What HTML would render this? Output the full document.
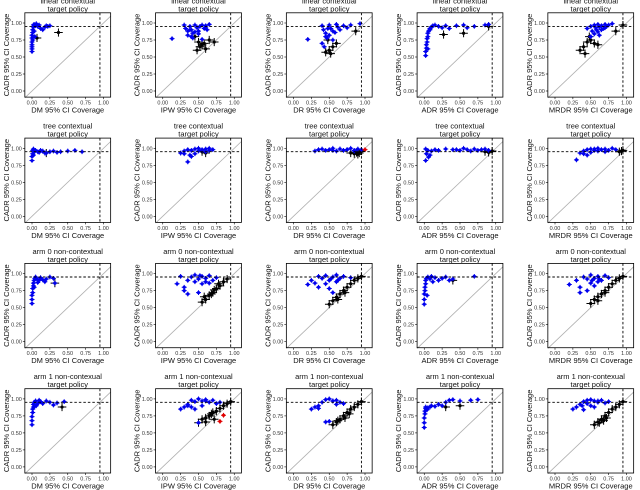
<!DOCTYPE html>
<html><head><meta charset="utf-8"><style>
html,body{margin:0;padding:0;background:#fff;}
svg{display:block;font-family:"Liberation Sans",sans-serif;}
</style></head><body>
<svg id="fig" width="640" height="490" viewBox="0 0 640 490" xmlns="http://www.w3.org/2000/svg"></svg>
<script>
const rowTitles = ["linear contextual","tree contextual","arm 0 non-contextual","arm 1 non-contexual"];
const colNames = ["DM","IPW","DR","ADR","MRDR"];
const tickVals = [0,0.25,0.5,0.75,1];
const tickLabels = ["0.00","0.25","0.50","0.75","1.00"];
const nominal = 0.95;
// blue points per panel (row-major)
const blueX = [
 [0,0,0,0,0,0,0.01,0.01,0.02,0.02,0.03,0.05,0.08,0.1,0.12,0.15,0.18,0.2,0.22,0.25,0.03,0.01,0,0.06,0.04],
 [0.13,0.3,0.32,0.35,0.38,0.4,0.42,0.45,0.48,0.5,0.52,0.55,0.58,0.6,0.62,0.65,0.35,0.4,0.45,0.5,0.55,0.6,0.38,0.42],
 [0.2,0.4,0.42,0.45,0.5,0.52,0.55,0.6,0.62,0.65,0.7,0.75,0.8,0.45,0.5,0.4,0.55,0.43,0.48,0.93,0.58,0.47],
 [0.02,0.02,0.03,0.03,0.04,0.04,0.05,0.05,0.06,0.08,0.1,0.12,0.15,0.2,0.25,0.3,0.35,0.45,0.55,0.6,0.7,0.85,0.9,0.08,0.05],
 [0.45,0.5,0.52,0.55,0.58,0.6,0.62,0.65,0.68,0.7,0.72,0.75,0.8,0.55,0.6,0.65,0.5,0.7,0.62,0.57],
 [0,0,0.01,0.01,0.02,0.03,0.05,0.08,0.1,0.15,0.2,0.25,0.3,0.35,0.4,0.5,0.6,0.7,0.02,0.12,0.18],
 [0.25,0.3,0.35,0.38,0.4,0.45,0.5,0.55,0.6,0.65,0.7,0.4,0.45,0.35,0.55,0.6,0.5,0.3,0.65],
 [0.3,0.35,0.4,0.45,0.5,0.55,0.6,0.65,0.7,0.75,0.8,0.85,0.9,0.95,0.55,0.65,0.75,0.85],
 [0.02,0.03,0.05,0.08,0.1,0.02,0.06,0.15,0.2,0.3,0.4,0.5,0.55,0.6,0.7,0.75,0.8,0.85,0.9,0.65,0.45],
 [0.3,0.35,0.4,0.45,0.5,0.55,0.6,0.65,0.7,0.75,0.8,0.85,0.45,0.5,0.6,0.4,0.7,0.55],
 [0,0,0,0.01,0.01,0.02,0.02,0.03,0.04,0.05,0.07,0.1,0.12,0.15,0.18,0.2,0.25,0.3,0.32,0.03,0.08],
 [0.2,0.25,0.3,0.35,0.4,0.45,0.5,0.55,0.6,0.65,0.7,0.75,0.5,0.55,0.6,0.3,0.35,0.45,0.65,0.52],
 [0.2,0.25,0.3,0.35,0.4,0.45,0.5,0.55,0.6,0.65,0.7,0.8,0.5,0.55,0.45,0.6,0.35,0.62,0.52],
 [0,0,0,0.01,0.01,0.02,0.02,0.03,0.05,0.08,0.1,0.15,0.2,0.25,0.3,0.35,0.4,0.7,0.04,0.12],
 [0.2,0.3,0.35,0.4,0.45,0.5,0.55,0.6,0.65,0.7,0.75,0.5,0.55,0.6,0.45,0.35,0.62,0.52],
 [0,0,0,0.01,0.01,0.02,0.02,0.03,0.05,0.08,0.1,0.12,0.15,0.2,0.25,0.3,0.35,0.45,0.03,0.06],
 [0.25,0.3,0.35,0.4,0.45,0.5,0.55,0.6,0.65,0.7,0.75,0.5,0.55,0.45,0.4,0.6,0.35,0.8],
 [0.25,0.3,0.35,0.4,0.45,0.5,0.55,0.6,0.65,0.7,0.45,0.5,0.35,0.6,0.55],
 [0,0,0,0.01,0.01,0.02,0.02,0.03,0.05,0.08,0.1,0.15,0.2,0.25,0.3,0.35,0.4,0.5,0.65,0.75,0.04],
 [0.25,0.3,0.35,0.4,0.45,0.5,0.55,0.6,0.65,0.7,0.75,0.4,0.5,0.55,0.45,0.6,0.38]
];
const blueY = [
 [0.58,0.62,0.68,0.72,0.78,0.82,0.86,0.9,0.94,0.97,0.98,0.96,0.95,0.97,0.92,0.9,0.94,0.96,0.95,0.96,0.88,0.75,0.65,0.99,0.8],
 [0.77,0.97,0.92,0.88,0.95,0.9,0.85,0.97,0.93,0.88,0.95,0.97,0.92,0.96,0.9,0.98,0.82,0.8,0.87,0.84,0.76,0.93,0.9,0.78],
 [0.76,0.96,0.9,0.85,0.97,0.92,0.88,0.98,0.94,0.9,0.96,0.93,0.97,0.8,0.82,0.7,0.75,0.65,0.92,0.99,0.86,0.78],
 [0.52,0.58,0.63,0.68,0.72,0.77,0.8,0.85,0.88,0.92,0.94,0.96,0.97,0.95,0.93,0.96,0.92,0.96,0.97,0.93,0.95,0.97,0.98,0.9,0.62],
 [0.92,0.95,0.88,0.97,0.9,0.98,0.94,0.96,0.92,0.98,0.95,0.97,0.99,0.84,0.87,0.9,0.8,0.93,0.82,0.93],
 [0.82,0.88,0.92,0.97,0.99,0.95,0.97,0.95,0.94,0.96,0.93,0.95,0.96,0.94,0.95,0.96,0.97,0.95,0.9,0.97,0.93],
 [0.93,0.96,0.98,0.9,0.97,0.99,0.96,0.98,0.99,0.97,0.98,0.88,0.92,0.8,0.97,0.95,1.0,0.92,1.0],
 [0.96,0.98,0.99,0.97,0.98,1.0,0.96,0.99,0.97,0.98,1.0,0.97,0.99,0.98,0.97,0.99,0.98,0.96],
 [0.82,0.92,0.97,0.9,0.96,0.99,0.87,0.98,0.97,0.99,0.98,0.97,1.0,0.98,0.99,0.97,0.98,0.99,0.97,0.96,0.98],
 [0.83,0.93,0.96,0.98,0.99,0.97,1.0,0.98,0.99,0.97,1.0,0.98,0.9,0.94,0.96,0.92,0.95,0.99],
 [0.56,0.62,0.68,0.72,0.78,0.82,0.86,0.9,0.93,0.95,0.92,0.9,0.94,0.91,0.88,0.92,0.95,0.93,0.86,0.8,0.87],
 [0.85,0.96,0.8,0.9,0.95,0.98,0.92,0.96,0.93,0.97,0.9,0.94,0.72,0.85,0.88,0.75,0.7,0.88,0.86,0.97],
 [0.84,0.9,0.86,0.96,0.93,0.97,0.9,0.95,0.98,0.93,0.96,0.94,0.78,0.72,0.85,0.88,0.8,0.9,0.92],
 [0.55,0.62,0.7,0.75,0.8,0.85,0.9,0.93,0.95,0.92,0.96,0.94,0.9,0.93,0.95,0.9,0.92,0.96,0.68,0.88],
 [0.84,0.9,0.8,0.95,0.92,0.98,0.93,0.96,0.9,0.97,0.94,0.86,0.82,0.88,0.75,0.72,0.92,0.9],
 [0.62,0.68,0.74,0.8,0.85,0.88,0.92,0.95,0.97,0.93,0.98,0.96,0.93,0.97,0.95,0.91,0.94,0.96,0.88,0.9],
 [0.85,0.88,0.92,0.98,0.96,1.0,0.97,0.99,0.95,0.98,0.93,0.65,0.9,0.85,0.88,0.97,0.9,0.95],
 [0.85,0.88,0.9,0.95,0.99,1.0,0.97,0.98,0.95,0.93,0.66,0.67,0.86,0.92,0.97],
 [0.58,0.65,0.72,0.78,0.82,0.86,0.88,0.85,0.87,0.88,0.9,0.89,0.92,0.9,0.95,0.98,0.99,0.97,0.98,0.99,0.84],
 [0.85,0.88,0.92,0.96,0.98,0.99,0.97,0.95,0.98,0.94,0.96,0.84,0.9,0.88,0.93,0.97,0.9]
];
// black points per panel
const blackX = [
 [0.37,0.07],
 [0.48,0.52,0.55,0.6,0.65,0.72,0.5,0.58,0.45],
 [0.45,0.5,0.55,0.6,0.48,0.87,0.52],
 [0.27,0.55,0.9],
 [0.35,0.4,0.45,0.5,0.55,0.6,0.85,0.95,0.42,0.48],
 [0.2],
 [0.55,0.6],
 [0.8,0.85,0.88,0.92,0.95,0.9],
 [0.85,0.9,0.95],
 [0.9,0.95,0.93],
 [0.32],
 [0.55,0.6,0.65,0.7,0.75,0.8,0.85,0.9,0.58,0.68,0.78,0.72],
 [0.5,0.55,0.6,0.65,0.7,0.75,0.8,0.85,0.9,0.95,0.62,0.72],
 [0.4],
 [0.5,0.55,0.6,0.65,0.7,0.75,0.8,0.85,0.9,0.95,0.6,0.7],
 [0.42],
 [0.5,0.55,0.6,0.65,0.7,0.75,0.8,0.85,0.9,0.95,0.6,0.72,0.68],
 [0.55,0.6,0.65,0.7,0.75,0.8,0.85,0.9,0.95,0.62,0.72,0.78],
 [0.3,0.5],
 [0.55,0.6,0.65,0.7,0.75,0.8,0.85,0.9,0.95,0.62,0.72,0.68]
];
const blackY = [
 [0.86,0.78],
 [0.6,0.65,0.68,0.62,0.75,0.72,0.72,0.7,0.8],
 [0.57,0.6,0.65,0.7,0.75,0.88,0.55],
 [0.83,0.85,0.95],
 [0.6,0.65,0.72,0.75,0.7,0.68,0.88,0.97,0.55,0.8],
 [0.93],
 [0.95,0.93],
 [0.93,0.92,0.94,0.93,0.96,0.91],
 [0.95,0.94,0.96],
 [0.95,0.97,0.96],
 [0.86],
 [0.58,0.62,0.68,0.72,0.78,0.82,0.88,0.92,0.66,0.7,0.85,0.76],
 [0.55,0.6,0.65,0.7,0.75,0.8,0.85,0.9,0.93,0.96,0.62,0.72],
 [0.9],
 [0.56,0.62,0.66,0.7,0.75,0.8,0.85,0.9,0.93,0.96,0.6,0.72],
 [0.88],
 [0.65,0.7,0.72,0.75,0.8,0.82,0.86,0.9,0.93,0.96,0.66,0.7,0.78],
 [0.62,0.66,0.7,0.75,0.8,0.85,0.88,0.92,0.96,0.68,0.72,0.78],
 [0.88,0.9],
 [0.62,0.66,0.7,0.75,0.8,0.85,0.88,0.92,0.96,0.65,0.72,0.68]
];
const redX = [[],[],[],[],[],[],[],[1.0],[],[],[],[],[],[],[],[],[0.8,0.85],[],[],[]];
const redY = [[],[],[],[],[],[],[],[0.98],[],[],[],[],[],[],[],[],[0.67,0.76],[],[],[]];

const NS="http://www.w3.org/2000/svg";
const svg=document.getElementById('fig');
function mk(tag,attrs,parent){const e=document.createElementNS(NS,tag);for(const k in attrs)e.setAttribute(k,attrs[k]);(parent||svg).appendChild(e);return e;}

for(let r=0;r<4;r++){for(let c=0;c<5;c++){
 const p=r*5+c;
 const X0=32+c*130.75, UX=71.5, Y0=91+r*125.3, UY=68;
 const sx=v=>X0+v*UX, sy=v=>Y0-v*UY;
 const g=mk('g',{});
 
 
 const L=sx(-0.1),R=sx(1.1),T=sy(1.15),B=sy(-0.09);
 const d=mk('line',{x1:sx(-0.1),y1:sy(-0.1),x2:sx(1.1),y2:sy(1.1),stroke:'#b0b0b0','stroke-width':0.8},g);
 
 
 const clip='clip'+p;
 const cp=mk('clipPath',{id:clip},g);mk('rect',{x:L,y:T,width:R-L,height:B-T},cp);
 const pts=mk('g',{'clip-path':'url(#'+clip+')'},g);
 function drawSet(xs,ys,col,e,name){
  for(let i=0;i<xs.length;i++){
   const x=sx(xs[i]),y=sy(ys[i]);
   const m=mk('g',{stroke:col,'stroke-width':1},pts);
   
   
   mk('line',{x1:x-e*UX,y1:y,x2:x+e*UX,y2:y},m);
   mk('line',{x1:x,y1:y-e*UY,x2:x,y2:y+e*UY},m);
   mk('circle',{cx:x,cy:y,r:1.6,fill:col,stroke:'none'},m);
  }
 }
 drawSet(blackX[p],blackY[p],'#000',0.06,'black-point');
 drawSet(blueX[p],blueY[p],'#0000ee',0.035,'blue-point');
 drawSet(redX[p],redY[p],'#e00000',0.035,'red-point');
 const hv=mk('line',{x1:L,y1:sy(nominal),x2:R,y2:sy(nominal),stroke:'#000','stroke-width':0.9,'stroke-dasharray':'2.5,2'},g);
 
 
 const vv=mk('line',{x1:sx(nominal),y1:T,x2:sx(nominal),y2:B,stroke:'#000','stroke-width':0.9,'stroke-dasharray':'2.5,2'},g);
 
 
 const fr=mk('rect',{x:L,y:T,width:R-L,height:B-T,fill:'none',stroke:'#000','stroke-width':0.8},g);
 
 
 for(let i=0;i<tickVals.length;i++){
  const tx=sx(tickVals[i]),ty=sy(tickVals[i]);
  mk('line',{x1:tx,y1:B,x2:tx,y2:B+2,stroke:'#000','stroke-width':0.6},g);
  mk('line',{x1:L-2,y1:ty,x2:L,y2:ty,stroke:'#000','stroke-width':0.6},g);
  const xl=mk('text',{x:tx,y:B+7.5,'font-size':5.5,'text-anchor':'middle',fill:'#333'},g);xl.textContent=tickLabels[i];
  
  
  const yl=mk('text',{x:L-3,y:ty+2,'font-size':5.5,'text-anchor':'end',fill:'#333'},g);yl.textContent=tickLabels[i];
  
  
 }
 const cx=(L+R)/2;
 const t1=mk('text',{x:cx,y:T-9.5,'font-size':7.5,'text-anchor':'middle',fill:'#111'},g);t1.textContent=rowTitles[r];
 
 
 const t2=mk('text',{x:cx,y:T-1.5,'font-size':7.5,'text-anchor':'middle',fill:'#111'},g);t2.textContent='target policy';
 
 
 const xt=mk('text',{x:cx,y:B+15.5,'font-size':7.5,'text-anchor':'middle',fill:'#111'},g);xt.textContent=colNames[c]+' 95% CI Coverage';
 
 
 const ym=(T+B)/2;
 const yt=mk('text',{x:L-16,y:ym,'font-size':7.5,'text-anchor':'middle',fill:'#111',transform:'rotate(-90 '+(L-16)+' '+ym+')'},g);yt.textContent='CADR 95% CI Coverage';
 
 
}}
</script>
</body></html>
